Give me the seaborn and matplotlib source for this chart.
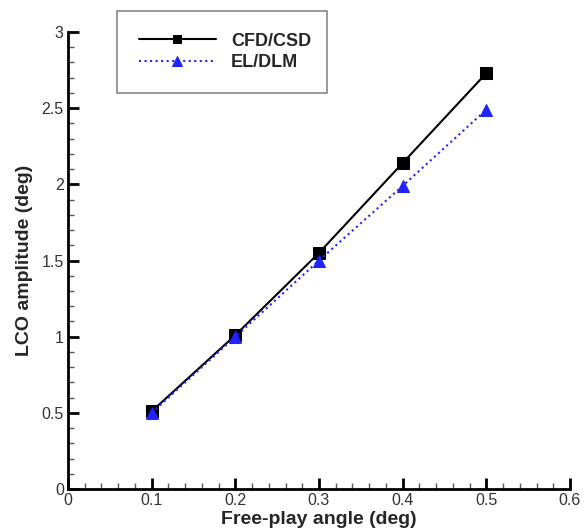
import matplotlib
matplotlib.use("Agg")
import matplotlib.pyplot as plt
import seaborn as sns
import pandas as pd
from matplotlib.ticker import MultipleLocator, FuncFormatter

free_play = [0.1, 0.2, 0.3, 0.4, 0.5]
cfd_csd = [0.51, 1.01, 1.55, 2.14, 2.73]
el_dlm = [0.50, 1.00, 1.50, 1.99, 2.49]

sns.set_theme(style="white")
plt.rcParams['font.family'] = ['Liberation Sans', 'DejaVu Sans']

df = pd.DataFrame({
    "x": free_play * 2,
    "y": cfd_csd + el_dlm,
    "series": ["CFD/CSD"] * 5 + ["EL/DLM"] * 5,
})

fig = plt.figure(figsize=(5.84, 5.31), dpi=100)
ax = fig.add_axes([0.1164, 0.079, 0.976 - 0.1164, 0.9397 - 0.079])

sns.lineplot(data=df[df.series == "CFD/CSD"], x="x", y="y", ax=ax, color="black",
             marker="s", markersize=8, linewidth=1.5, label="CFD/CSD",
             markeredgecolor="black")
sns.lineplot(data=df[df.series == "EL/DLM"], x="x", y="y", ax=ax, color="#2222ff",
             marker="^", markersize=9, linewidth=1.5, linestyle=":", label="EL/DLM",
             markeredgecolor="#2222ff")

ax.set_xlim(0, 0.6)
ax.set_ylim(0, 3)
ax.xaxis.set_major_locator(MultipleLocator(0.1))
ax.xaxis.set_minor_locator(MultipleLocator(0.02))
ax.yaxis.set_major_locator(MultipleLocator(0.5))
ax.yaxis.set_minor_locator(MultipleLocator(0.1))
fmt = FuncFormatter(lambda v, p: "%g" % round(v, 3))
ax.xaxis.set_major_formatter(fmt)
ax.yaxis.set_major_formatter(fmt)

for s in ["top", "right"]:
    ax.spines[s].set_visible(False)
for s in ["left", "bottom"]:
    ax.spines[s].set_color("black")
    ax.spines[s].set_linewidth(2)

ax.tick_params(which="major", direction="in", length=8, width=2, labelsize=11.5,
               colors="black", left=True, bottom=True, pad=3)
ax.tick_params(which="minor", direction="in", length=4, width=1, colors="#555555",
               left=True, bottom=True)
for lbl in ax.get_xticklabels() + ax.get_yticklabels():
    lbl.set_color("#333333")

ax.set_xlabel("Free-play angle (deg)", fontsize=14, fontweight="bold", labelpad=2)
ax.set_ylabel("LCO amplitude (deg)", fontsize=14, fontweight="bold", labelpad=6)

leg = ax.legend(loc="upper left", mode="expand",
                bbox_to_anchor=(117 / 584, 1 - 90 / 531, 210 / 584, 79 / 531),
                bbox_transform=fig.transFigure, fancybox=False, framealpha=1,
                edgecolor="#888888", fontsize=13, handlelength=4.3,
                handletextpad=0.8, borderpad=1.2, labelspacing=0.25,
                markerscale=0.8, borderaxespad=0)
leg.get_frame().set_linewidth(1.2)
for t in leg.get_texts():
    t.set_fontweight("bold")

fig.savefig("out.png", dpi=100)
